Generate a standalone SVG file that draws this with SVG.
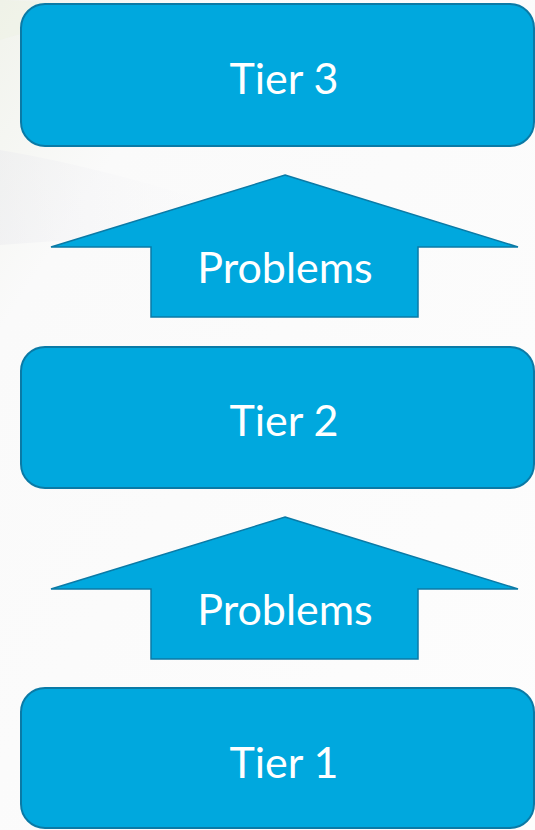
<svg xmlns="http://www.w3.org/2000/svg" width="535" height="830" viewBox="0 0 535 830">
  <defs>
    <linearGradient id="bg" x1="0" y1="0" x2="1" y2="1">
      <stop offset="0" stop-color="#f1f3ec"/>
      <stop offset="0.2" stop-color="#fafafa"/>
      <stop offset="1" stop-color="#fdfdfd"/>
    </linearGradient>
    <linearGradient id="streak" x1="0" y1="0" x2="1" y2="0">
      <stop offset="0" stop-color="#e6e6ec" stop-opacity="0.8"/>
      <stop offset="1" stop-color="#ffffff" stop-opacity="0"/>
    </linearGradient>
  </defs>
  <style>
    .box { fill: #00A8DE; stroke: #0A7AA6; stroke-width: 2; }
    .arrow { fill: #00A8DE; stroke: #0A7AA6; stroke-width: 1.5; stroke-linejoin: miter; }
    .lbl { font-family: Lato, "Liberation Sans", sans-serif; font-size: 43px; fill: #ffffff; text-anchor: middle; }
  </style>
  <rect x="0" y="0" width="535" height="830" fill="url(#bg)"/>
  <path d="M0 150 Q120 170 280 225 L0 245 Z" fill="url(#streak)" opacity="0.45"/>
  <path d="M0 40 Q60 20 200 10 L0 0 Z" fill="#eef2e4" opacity="0.5"/>

  <g id="tier3">
    <rect class="box" x="21" y="4" width="513" height="142" rx="24" ry="24"/>
    <text class="lbl" x="284" y="94">Tier 3</text>
  </g>
  <g id="tier2">
    <rect class="box" x="21" y="347" width="513" height="141" rx="24" ry="24"/>
    <text class="lbl" x="284" y="436">Tier 2</text>
  </g>
  <g id="tier1">
    <rect class="box" x="21" y="688" width="513" height="140" rx="24" ry="24"/>
    <text class="lbl" x="284" y="778">Tier 1</text>
  </g>

  <g id="connectors">
    <g id="arrow1">
      <polygon class="arrow" points="285,175 518,247 418,247 418,317 151,317 151,247 51,247"/>
      <text class="lbl" x="285" y="283">Problems</text>
    </g>
    <g id="arrow2">
      <polygon class="arrow" points="285,517 518,589 418,589 418,659 151,659 151,589 51,589"/>
      <text class="lbl" x="285" y="625">Problems</text>
    </g>
  </g>
</svg>
